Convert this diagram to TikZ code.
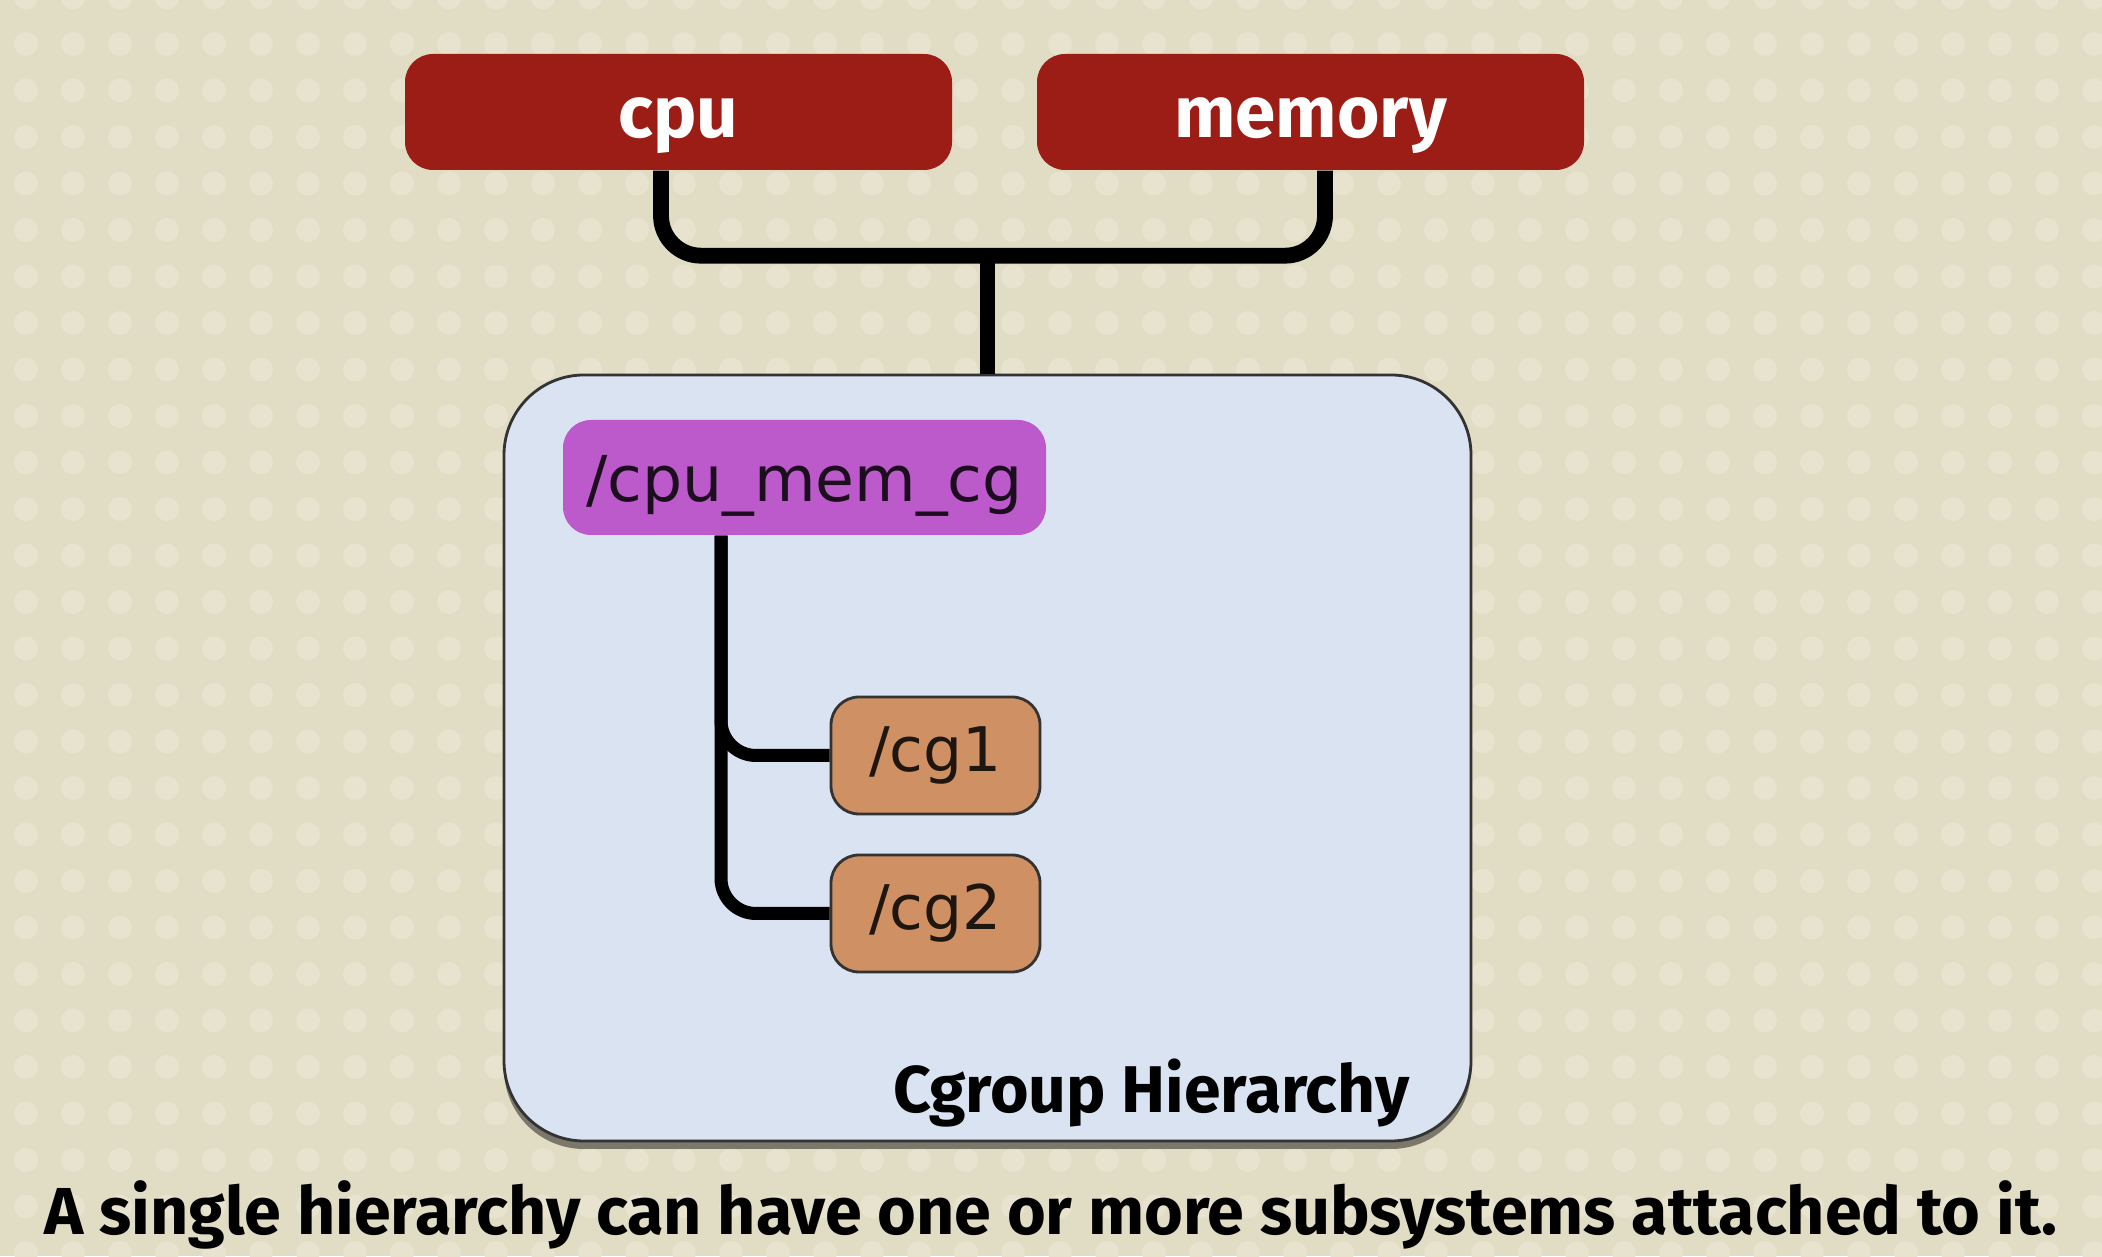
\documentclass[tikz,border=0pt]{standalone}
\usepackage{fontspec}
\usetikzlibrary{shadows}
\newfontfamily\labelfont{DejaVu Sans}
\newfontfamily\headfont{Fira Sans}
\definecolor{paper}{HTML}{E1DCC4}
\definecolor{paperdot}{HTML}{E7E3CF}
\definecolor{subsysred}{HTML}{9B1D15}
\definecolor{hierblue}{HTML}{D9E3F1}
\definecolor{rootpurple}{HTML}{BC5ACB}
\definecolor{leaforange}{HTML}{CF9164}
\begin{document}
\begin{tikzpicture}[line join=round,
	subsys/.style={fill=subsysred, text=white, rounded corners=2.8mm, minimum width=5.47cm, minimum height=1.16cm, text height=0.51cm, text depth=0pt, font=\headfont\bfseries\fontsize{20.7}{22}\selectfont},
	hier/.style={draw=black!80, fill=hierblue, line width=0.8pt, rounded corners=8mm, minimum width=9.67cm, minimum height=7.66cm, drop shadow={shadow xshift=0pt, shadow yshift=-0.8mm, opacity=0.45, fill=black}},
	cgroot/.style={fill=rootpurple, text=black!85!rootpurple, rounded corners=2.8mm, minimum width=4.83cm, minimum height=1.15cm, text height=0.48cm, text depth=0pt, font=\labelfont\fontsize{18}{20}\selectfont},
	leaf/.style={draw=black!80, fill=leaforange, text=black!85!leaforange, line width=0.8pt, rounded corners=2.8mm, minimum width=2.09cm, minimum height=1.17cm, font=\labelfont\fontsize{17.5}{20}\selectfont},
	bus/.style={line width=4.5pt, rounded corners=4mm},
	link/.style={line width=3.7pt, rounded corners=3.5mm}]
	
	% Nen cham
	\useasboundingbox (0, 0) rectangle (21.02, 12.56);
	\fill[paper] (0, 0) rectangle (21.02, 12.56);
	\foreach \i in {0,...,44}
		\foreach \j in {-1,...,26}
			\fill[paperdot] (0.26+0.47*\i, 12.12-0.465*\j) circle (0.12);
	
	% Cac subsystem
	\node[subsys] (cpu) at (6.785, 11.44) {cpu};
	\node[subsys] (memory) at (13.105, 11.44) {memory};
	
	% Cay cgroup
	\node[hier] (hierarchy) at (9.875, 4.98) {};
	\node[cgroot] (root) at (8.045, 7.785) {/cpu\_mem\_cg};
	\node[leaf] (cg1) at (9.355, 5.005) {/cg1};
	\node[leaf] (cg2) at (9.355, 3.425) {/cg2};
	\node[font=\headfont\bfseries\fontsize{18.8}{20}\selectfont, inner sep=0pt, anchor=east] (title) at (14.10, 1.63) {Cgroup Hierarchy};
	
	% Noi
	\draw[bus] ([xshift=-1.75mm]cpu.south) -- ++(0, -0.85) -| ([xshift=1.45mm]memory.south);
	\draw[bus] (hierarchy.north) -- ++(0, 1.2);
	\draw[link] (cg1.west) -| ([xshift=-8.35mm]root.south);
	\draw[link] (cg2.west) -| ([xshift=-8.35mm]root.south);
	
	% Chu thich
	\node[font=\headfont\bfseries\fontsize{18.9}{20}\selectfont] (caption) at (10.51, 0.41) {A single hierarchy can have one or more subsystems attached to it.};
\end{tikzpicture}
\end{document}
